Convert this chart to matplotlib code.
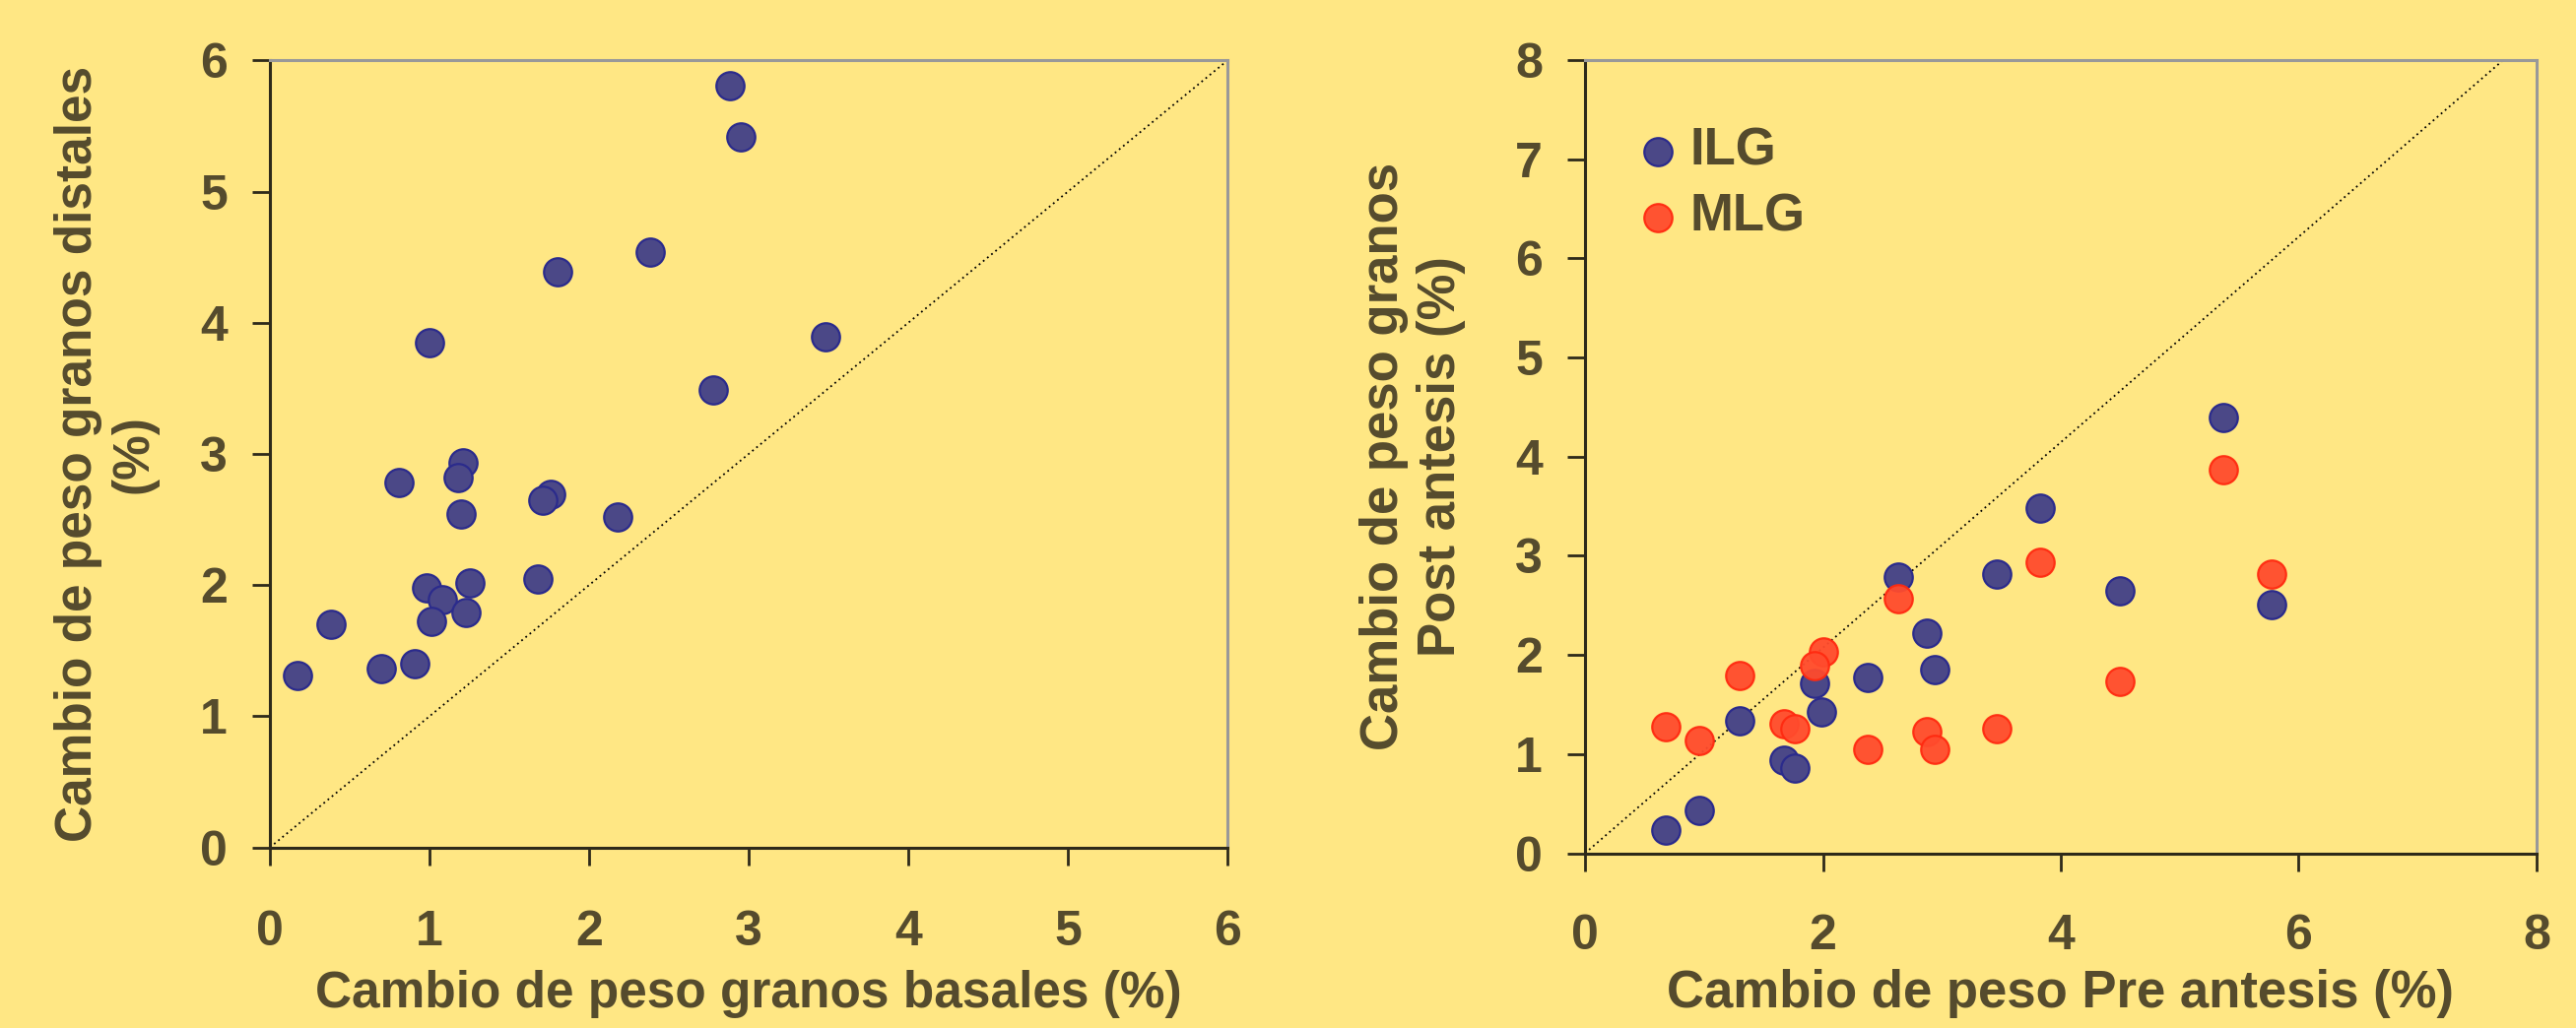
import numpy as np
import matplotlib
matplotlib.use("Agg")
import matplotlib.pyplot as plt

# Left panel: basal vs distal grain weight change (%)
basales = [2.88, 2.95, 2.38, 1.80, 1.00, 3.48, 2.78, 1.21, 1.18, 0.81, 1.20, 1.76,
           1.71, 2.18, 1.68, 1.25, 0.98, 1.08, 1.23, 1.01, 0.38, 0.91, 0.70, 0.17]
distales = [5.81, 5.42, 4.54, 4.39, 3.85, 3.89, 3.49, 2.93, 2.82, 2.78, 2.54, 2.69,
            2.65, 2.52, 2.05, 2.02, 1.98, 1.89, 1.79, 1.72, 1.70, 1.40, 1.36, 1.31]

# Right panel: pre vs post anthesis weight change (%)
ilg_pre = [5.37, 3.83, 2.63, 3.46, 4.50, 5.77, 2.87, 2.94, 2.38, 1.93, 1.99, 1.30,
           1.67, 1.76, 0.96, 0.68]
ilg_post = [4.39, 3.48, 2.79, 2.82, 2.65, 2.51, 2.22, 1.85, 1.77, 1.71, 1.43, 1.34,
            0.94, 0.86, 0.43, 0.23]
mlg_pre = [5.37, 3.83, 5.77, 2.63, 2.00, 1.93, 1.30, 4.50, 0.68, 0.96, 1.67, 1.76,
           2.87, 3.46, 2.38, 2.94]
mlg_post = [3.87, 2.93, 2.82, 2.57, 2.03, 1.89, 1.79, 1.73, 1.28, 1.14, 1.31, 1.26,
            1.23, 1.26, 1.05, 1.05]

bg = '#FFE784'
txt = '#554B2D'
blue_face, blue_edge = '#4B4887', '#2B2B8C'
red_face, red_edge = '#FF4B2D', '#FF2A10'

plt.rcParams['font.family'] = ['Liberation Sans', 'DejaVu Sans']
plt.rcParams['font.weight'] = 'bold'

fig = plt.figure(figsize=(26.15, 10.44), dpi=100, facecolor=bg)
ax1 = fig.add_axes([0.1048, 0.1757, 0.3717, 0.7655])
ax2 = fig.add_axes([0.6153, 0.170, 0.3694, 0.7716])


def style(ax, xpad):
    ax.set_facecolor(bg)
    for s in ['left', 'bottom']:
        ax.spines[s].set_color('#2E2A1A')
        ax.spines[s].set_linewidth(2.2)
    for s in ['top', 'right']:
        ax.spines[s].set_color('#999999')
        ax.spines[s].set_linewidth(2.2)
    ax.tick_params(axis='both', direction='out', length=13, width=2,
                   color='#2E2A1A', labelcolor=txt, labelsize=36)
    ax.tick_params(axis='y', pad=18)
    ax.tick_params(axis='x', pad=xpad)


# left panel
ax1.plot([0, 6], [0, 6], color='black', lw=1.3, ls=(0, (1, 2)), zorder=1)
ax1.scatter(basales, distales, s=420, c=blue_face, edgecolors=blue_edge,
            linewidths=1.6, zorder=3)
ax1.set_xlim(0, 6)
ax1.set_ylim(0, 6)
ax1.set_xticks(range(0, 7))
ax1.set_yticks(range(0, 7))
style(ax1, 33)
ax1.set_xlabel('Cambio de peso granos basales (%)', fontsize=37, color=txt,
               fontweight='bold', va='center')
ax1.set_ylabel('Cambio de peso granos distales\n(%)', fontsize=37, color=txt,
               fontweight='bold', va='center', linespacing=1.2)
ax1.xaxis.set_label_coords(0.5, -0.186)
ax1.yaxis.set_label_coords(-0.171, 0.5)

# right panel
ax2.plot([0, 7.72], [0, 8], color='black', lw=1.3, ls=(0, (1, 2)), zorder=1)
ax2.scatter(ilg_pre, ilg_post, s=420, c=blue_face, edgecolors=blue_edge,
            linewidths=1.6, zorder=3, label='ILG')
ax2.scatter(mlg_pre, mlg_post, s=420, c=red_face, edgecolors=red_edge,
            linewidths=1.6, zorder=3, alpha=0.95, label='MLG')
ax2.set_xlim(0, 8)
ax2.set_ylim(0, 8)
ax2.set_xticks(range(0, 9, 2))
ax2.set_yticks(range(0, 9))
style(ax2, 31)
ax2.set_xlabel('Cambio de peso Pre antesis (%)', fontsize=38, color=txt,
               fontweight='bold', va='center')
ax2.set_ylabel('Cambio de peso granos\nPost antesis (%)', fontsize=38, color=txt,
               fontweight='bold', va='center', linespacing=1.2)
ax2.xaxis.set_label_coords(0.5, -0.177)
ax2.yaxis.set_label_coords(-0.181, 0.5)

leg = ax2.legend(loc='upper left', bbox_to_anchor=(0.017, 0.955), frameon=False,
                 fontsize=38, labelcolor=txt, handlelength=1.0, handletextpad=0.1,
                 labelspacing=0.32, borderaxespad=0.2)
for t in leg.get_texts():
    t.set_fontweight('bold')

fig.savefig('out.png', dpi=100, facecolor=bg)
